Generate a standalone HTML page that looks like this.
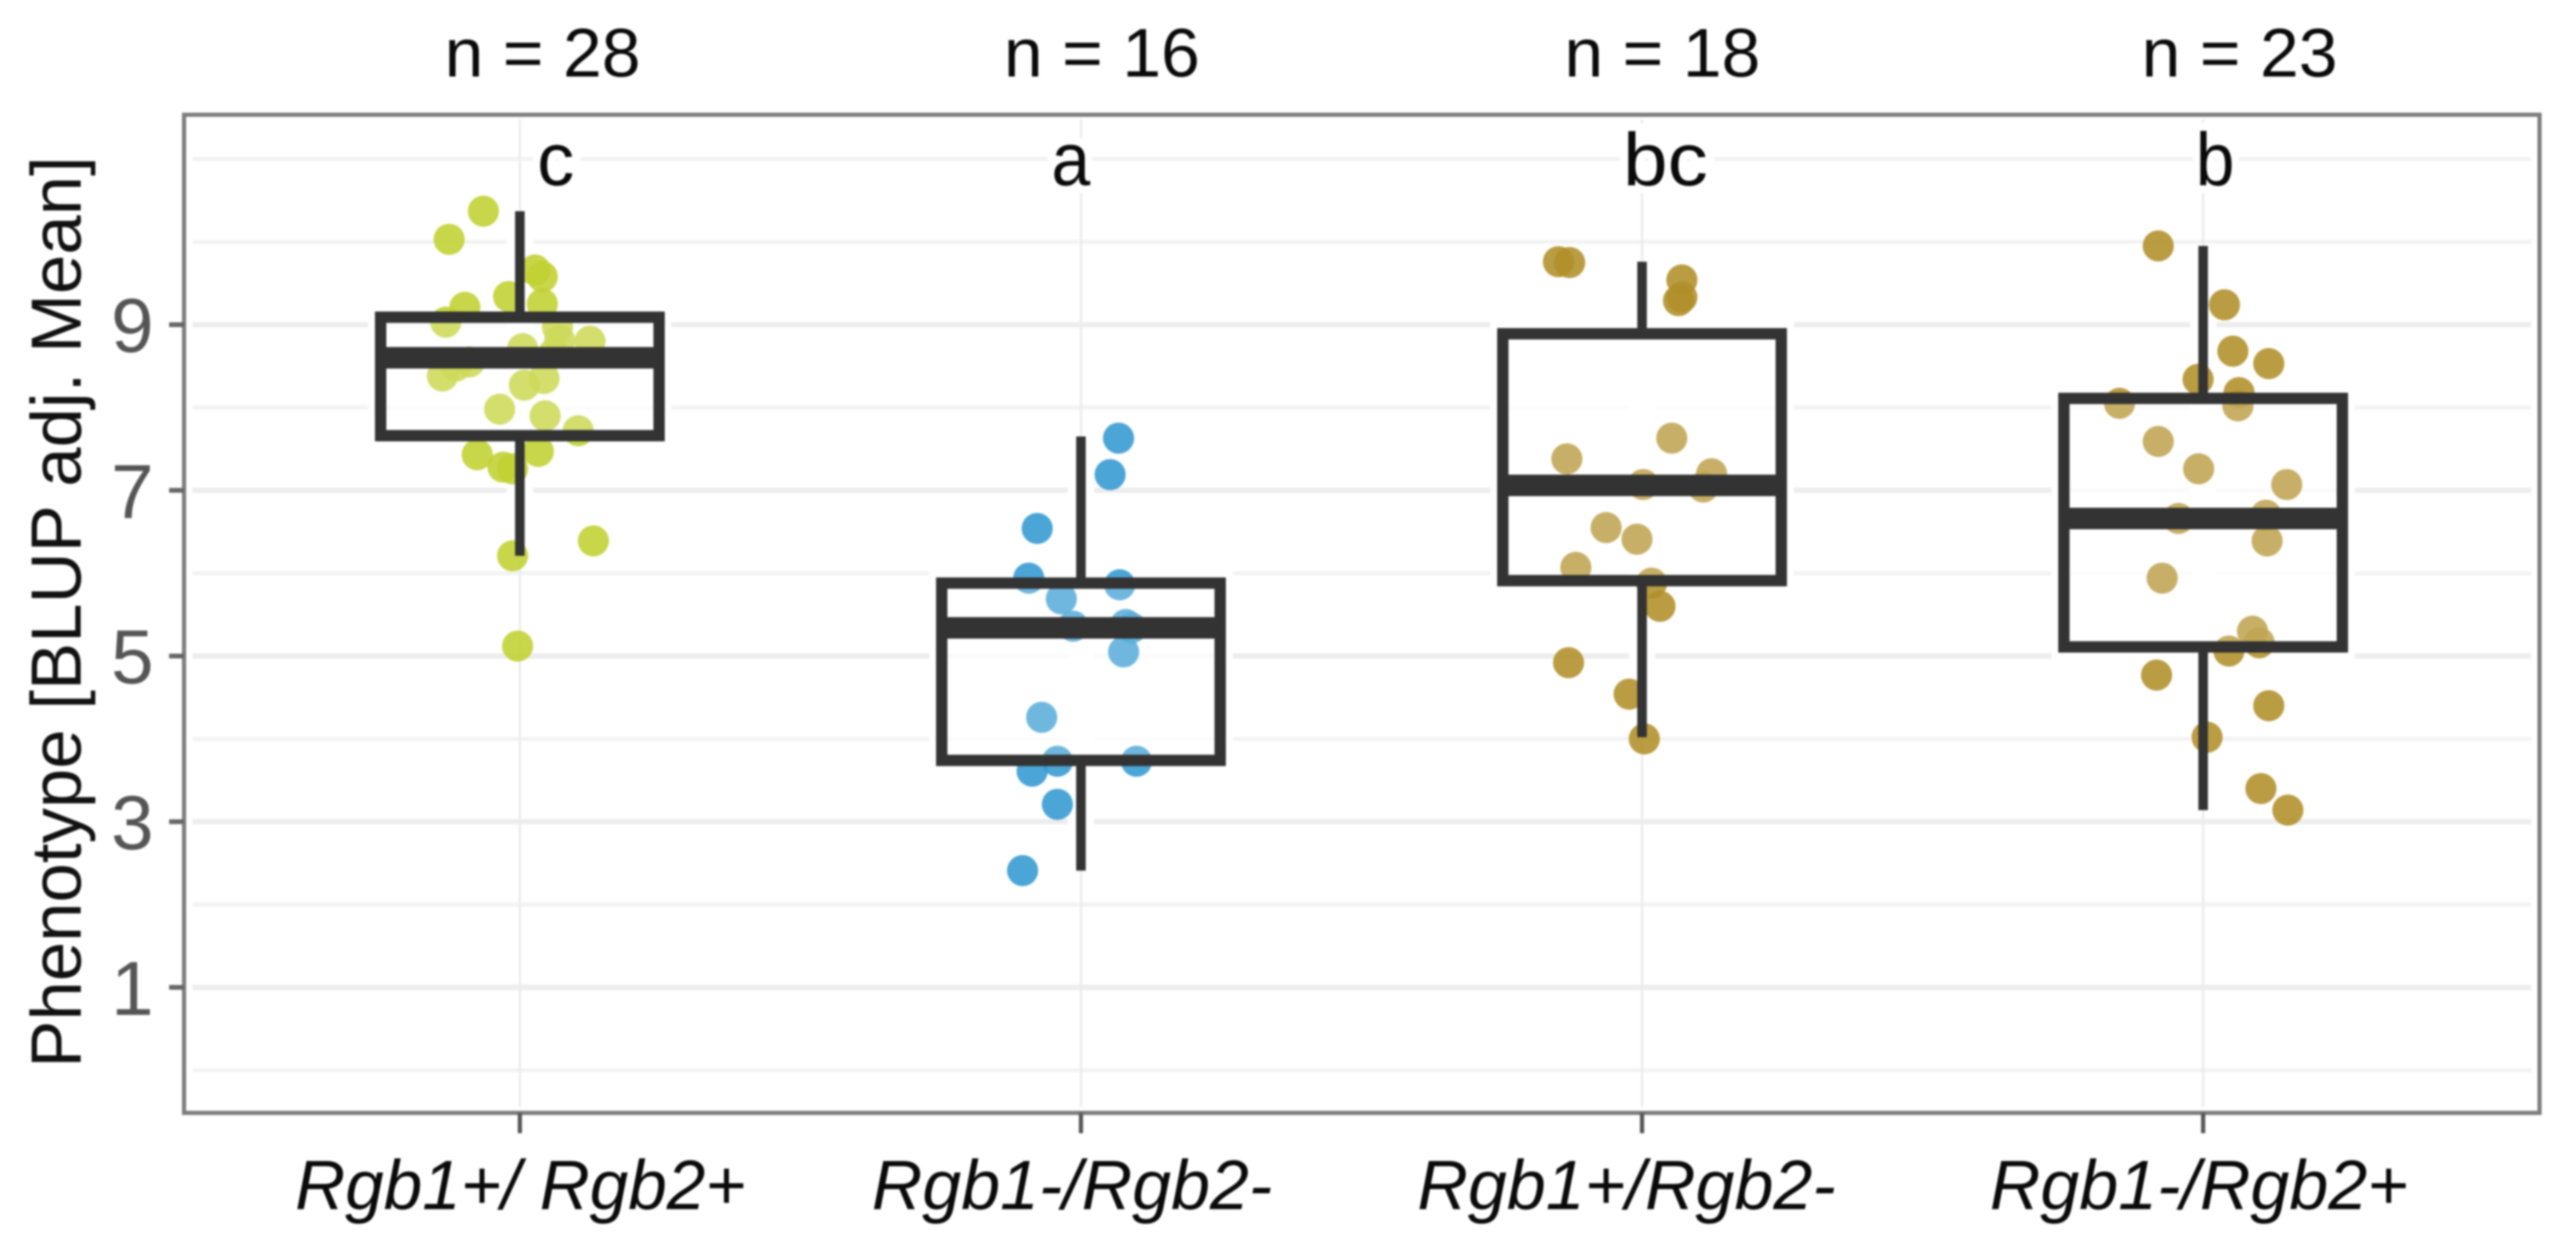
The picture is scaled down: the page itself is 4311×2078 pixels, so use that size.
<!DOCTYPE html>
<html lang="en">
<head>
<meta charset="utf-8">
<title>Phenotype by Rgb genotype</title>
<style>
html,body{margin:0;padding:0;background:#fff;}
body{width:4311px;height:2078px;overflow:hidden;}
svg{display:block;filter:blur(1.6px);}
text{font-family:"Liberation Sans",sans-serif;}
</style>
</head>
<body>
<svg id="chart" xmlns="http://www.w3.org/2000/svg" width="4311" height="2078" viewBox="0 0 4311 2078">
  <rect x="0" y="0" width="4311" height="2078" fill="#ffffff"/>
  <g id="grid"></g>
  <g id="marks"></g>
  <rect x="308" y="192" width="3942" height="1670" fill="none" stroke="#7d7d7d" stroke-width="7"/>
  <g id="axes"></g>
  <text transform="translate(135,2) rotate(-90)" x="-1022" y="0" text-anchor="middle" font-size="119" textLength="1525" lengthAdjust="spacingAndGlyphs" fill="#111111">Phenotype [BLUP adj. Mean]</text>
  <g id="annotations"></g>
</svg>
<script>
const categories = ['Rgb1+/ Rgb2+', 'Rgb1-/Rgb2-', 'Rgb1+/Rgb2-', 'Rgb1-/Rgb2+'];
const countLabels = ['n = 28', 'n = 16', 'n = 18', 'n = 23'];
const letterLabels = ['c', 'a', 'bc', 'b'];
const yTickLabels = [1, 3, 5, 7, 9];
const yMinorGrid = [0, 2, 4, 6, 8, 10, 11];

const whiskerHigh = [10.37, 7.65, 9.76, 9.95];
const quartile3 = [9.09, 5.88, 8.89, 8.11];
const medians = [8.60, 5.34, 7.06, 6.66];
const quartile1 = [7.66, 3.74, 5.91, 5.11];
const whiskerLow = [6.21, 2.41, 4.02, 3.14];

const pointsGroup1 = [10.37, 10.03, 9.66, 9.58, 9.34, 9.25, 9.21, 9.03, 8.97, 8.81, 8.80, 8.71, 8.50, 8.38, 8.35, 8.27, 7.98, 7.90, 7.72, 7.43, 7.47, 7.28, 7.26, 6.39, 6.21, 5.12, 8.65, 8.55];
const jitterGroup1 = [-0.065, -0.126, 0.027, 0.040, -0.020, 0.040, -0.098, -0.132, 0.067, 0.071, 0.125, 0.005, -0.114, -0.138, 0.043, 0.008, -0.036, 0.045, 0.104, -0.076, 0.033, -0.030, -0.013, 0.131, -0.013, -0.004, 0.060, -0.090];

const pointsGroup2 = [7.63, 7.19, 6.54, 5.94, 5.86, 5.69, 5.36, 5.38, 5.34, 5.05, 4.26, 3.73, 3.73, 3.61, 3.21, 2.41];
const jitterGroup2 = [0.067, 0.052, -0.078, -0.093, 0.069, -0.035, -0.014, 0.080, 0.090, 0.076, -0.070, -0.042, 0.099, -0.087, -0.042, -0.104];

const pointsGroup3 = [9.76, 9.75, 9.54, 9.33, 9.29, 7.38, 7.63, 7.20, 7.04, 7.07, 6.55, 6.41, 6.07, 5.88, 5.60, 4.92, 4.54, 4.00];
const jitterGroup3 = [-0.149, -0.129, 0.071, 0.071, 0.065, -0.134, 0.053, 0.124, 0.109, 0.002, -0.064, -0.009, -0.118, 0.017, 0.032, -0.131, -0.023, 0.004];

const pointsGroup4 = [9.95, 9.24, 8.68, 8.53, 8.34, 8.18, 8.05, 8.02, 7.59, 7.26, 7.07, 6.66, 6.39, 5.94, 5.30, 5.16, 5.06, 4.77, 4.40, 4.02, 3.40, 3.14, 6.70];
const jitterGroup4 = [-0.080, 0.038, 0.053, 0.117, -0.009, 0.064, -0.149, 0.062, -0.080, -0.008, 0.149, -0.044, 0.114, -0.073, 0.088, 0.100, 0.046, -0.083, 0.117, 0.007, 0.103, 0.151, 0.112];

const seriesValues = [pointsGroup1, pointsGroup2, pointsGroup3, pointsGroup4];
const seriesJitter = [jitterGroup1, jitterGroup2, jitterGroup3, jitterGroup4];
const seriesColors = ['#c0d030', '#3298d0', '#b08e28', '#b08e28'];

const SVG_NS = 'http://www.w3.org/2000/svg';
function xScale(position) { return 870 + position * 939; }
function yScale(value) { return 1652 - (value - 1) * 138.6; }
function make(parent, tag, attrs, content) {
  const node = document.createElementNS(SVG_NS, tag);
  for (const key in attrs) node.setAttribute(key, attrs[key]);
  if (content !== undefined) node.textContent = content;
  parent.appendChild(node);
  return node;
}

const gridLayer = document.getElementById('grid');
const markLayer = document.getElementById('marks');
const axisLayer = document.getElementById('axes');
const noteLayer = document.getElementById('annotations');
const boxHalfWidth = 233;

yMinorGrid.forEach(function (value) {
  const el = make(gridLayer, 'line', {x1: 322, x2: 4236, y1: yScale(value), y2: yScale(value), stroke: '#f3f3f3', 'stroke-width': 7});
  
  
});
yTickLabels.forEach(function (value) {
  const el = make(gridLayer, 'line', {x1: 322, x2: 4236, y1: yScale(value), y2: yScale(value), stroke: '#ededed', 'stroke-width': 9});
  
  
});
categories.forEach(function (name, i) {
  const el = make(gridLayer, 'line', {x1: xScale(i), x2: xScale(i), y1: 200, y2: 1852, stroke: '#ececec', 'stroke-width': 4});
  
  
});

categories.forEach(function (name, i) {
  const cx = xScale(i);
  const halo = make(markLayer, 'rect', {x: cx - boxHalfWidth - 8, y: yScale(quartile3[i]) - 8, width: 2 * boxHalfWidth + 16, height: yScale(quartile1[i]) - yScale(quartile3[i]) + 16, fill: '#ffffff', 'fill-opacity': 0.75, stroke: '#ffffff', 'stroke-width': 26});
  
  
  const haloWhisker = make(markLayer, 'line', {x1: cx, x2: cx, y1: yScale(whiskerHigh[i]), y2: yScale(whiskerLow[i]), stroke: '#ffffff', 'stroke-width': 44});
  
  

  seriesValues[i].forEach(function (value, j) {
    const dot = make(markLayer, 'circle', {cx: xScale(i + seriesJitter[i][j]), cy: yScale(value), r: 26, fill: seriesColors[i], 'fill-opacity': 0.88});
    
    
  });

  const whiskerUp = make(markLayer, 'line', {x1: cx, x2: cx, y1: yScale(whiskerHigh[i]), y2: yScale(quartile3[i]), stroke: '#333333', 'stroke-width': 16});
  
  
  const whiskerDown = make(markLayer, 'line', {x1: cx, x2: cx, y1: yScale(quartile1[i]), y2: yScale(whiskerLow[i]), stroke: '#333333', 'stroke-width': 16});
  
  
  const box = make(markLayer, 'rect', {x: cx - boxHalfWidth, y: yScale(quartile3[i]), width: 2 * boxHalfWidth, height: yScale(quartile1[i]) - yScale(quartile3[i]), fill: '#ffffff', 'fill-opacity': 0.2, stroke: '#333333', 'stroke-width': 19});
  
  
  const median = make(markLayer, 'line', {x1: cx - boxHalfWidth, x2: cx + boxHalfWidth, y1: yScale(medians[i]), y2: yScale(medians[i]), stroke: '#333333', 'stroke-width': 36});
  
  

  const tick = make(axisLayer, 'line', {x1: cx, x2: cx, y1: 1862, y2: 1896, stroke: '#555555', 'stroke-width': 7});
  
  
});

yTickLabels.forEach(function (value) {
  const tick = make(axisLayer, 'line', {x1: 283, x2: 308, y1: yScale(value), y2: yScale(value), stroke: '#666666', 'stroke-width': 8});
  
  
  const label = make(axisLayer, 'text', {x: 257, y: yScale(value) + 46, 'text-anchor': 'end', 'font-size': 128, fill: '#555555'}, String(value));
  
  
});

const xLabelStart = [494, 1459, 2372, 3330];
const xLabelWidth = [754, 670, 700, 700];
categories.forEach(function (name, i) {
  const label = make(axisLayer, 'text', {x: xLabelStart[i], y: 2023, 'font-size': 117, 'font-style': 'italic', fill: '#0a0a0a', textLength: xLabelWidth[i], lengthAdjust: 'spacingAndGlyphs'}, name);
  
  
});

const countCenter = [908, 1844, 2782, 3748];
const letterCenter = [930, 1792, 2787, 3707];
const letterWidth = [62, 65, 142, 65];
countLabels.forEach(function (text, i) {
  const label = make(noteLayer, 'text', {x: countCenter[i], y: 128, 'text-anchor': 'middle', 'font-size': 115, fill: '#0a0a0a', textLength: 328, lengthAdjust: 'spacingAndGlyphs'}, text);
  
  
});
letterLabels.forEach(function (text, i) {
  const label = make(noteLayer, 'text', {x: letterCenter[i], y: 310, 'text-anchor': 'middle', 'font-size': 125, fill: '#0a0a0a', stroke: '#ffffff', 'stroke-width': 26, 'paint-order': 'stroke', textLength: letterWidth[i], lengthAdjust: 'spacingAndGlyphs'}, text);
  
  
});
</script>
</body>
</html>
